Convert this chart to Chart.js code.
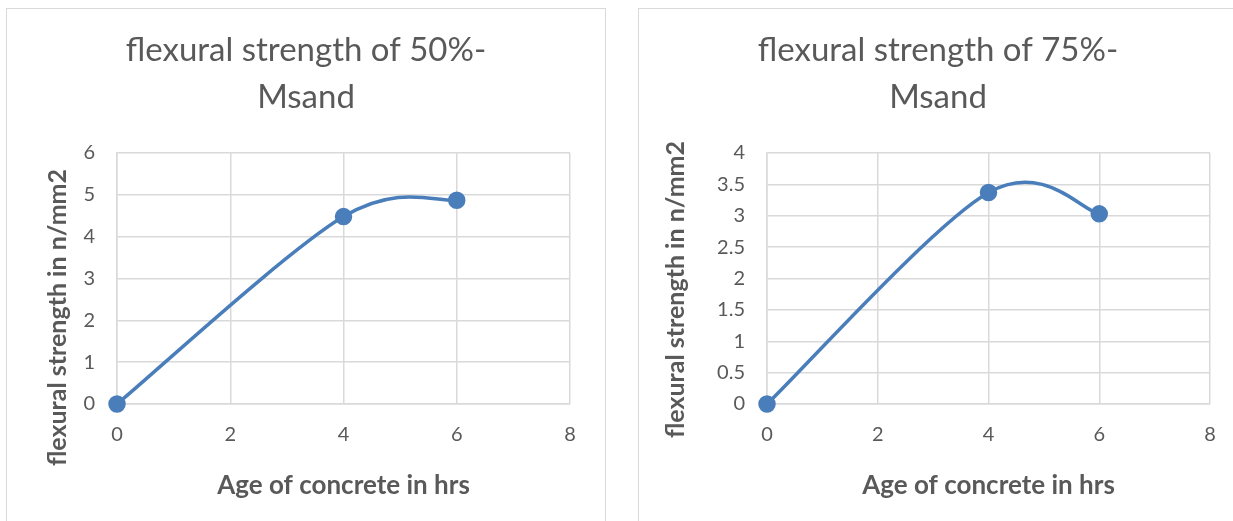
<html>

<head>
    <title>Flexural strength</title>
    <script src="https://cdn.jsdelivr.net/npm/chart.js"></script>
    <style>
        body { margin: 0; background: #fff; width: 1233px; height: 521px; overflow: hidden; }
        .panel { position: absolute; top: 8px; width: 600px; height: 530px; border: 1px solid #d9d9d9; box-sizing: border-box; background: #fff; }
        .panel canvas { position: absolute; left: 0; top: 0; }
        #left-panel { left: 6px; }
        #right-panel { left: 638px; }
    </style>
</head>

<body>
    <div class="panel" id="left-panel">
        <canvas id="msand50" width="598" height="512"></canvas>
    </div>
    <div class="panel" id="right-panel">
        <canvas id="msand75" width="598" height="512"></canvas>
    </div>
</body>
<script>
    // data
    const ageHrs = [0, 4, 6]
    const strength50 = [0, 4.48, 4.87]
    const strength75 = [0, 3.37, 3.03]
    const xTicks = [0, 2, 4, 6, 8]

    const grey = '#595959'
    const gridGrey = '#d9d9d9'
    const lineBlue = '#4a7ebb'
    const font = "Lato, 'Open Sans', sans-serif"

    // excel style smoothing: control points at a fixed share of the neighbour span
    const excelSmooth = {
        id: 'excelSmooth',
        beforeDatasetDraw(chart, args) {
            const meta = args.meta
            meta.dataset.updateControlPoints(chart.chartArea, 'x')
            const pts = meta.data
            const k = 0.165
            pts.forEach((p, i) => {
                const prev = pts[i - 1] || p
                const next = pts[i + 1] || p
                p.cp1x = p.x - (next.x - prev.x) * k
                p.cp1y = p.y - (next.y - prev.y) * k
                p.cp2x = p.x + (next.x - prev.x) * k
                p.cp2y = p.y + (next.y - prev.y) * k
            })
        }
    }

    // y axis title, centred a bit lower than the plot like in excel
    const sideTitle = {
        id: 'sideTitle',
        afterDraw(chart, args, opts) {
            const { ctx, chartArea } = chart
            ctx.save()
            ctx.translate(opts.x, (chartArea.top + chartArea.bottom) / 2 + opts.shift)
            ctx.rotate(-Math.PI / 2)
            ctx.font = 'bold 25px ' + font
            ctx.fillStyle = grey
            ctx.textAlign = 'center'
            ctx.textBaseline = 'middle'
            ctx.fillText(opts.text, 0, 0)
            ctx.restore()
        }
    }

    function flexChart(id, title, values, yMax, yStep, pad, yWidth, titleX, titleShift) {
        const points = ageHrs.map((x, i) => ({ x: x, y: values[i] }))
        return new Chart(document.getElementById(id), {
            type: 'scatter',
            data: {
                datasets: [{
                    data: points,
                    showLine: true,
                    borderColor: lineBlue,
                    backgroundColor: lineBlue,
                    borderWidth: 3.5,
                    pointRadius: 7,
                    tension: 0.4,
                    clip: false
                }]
            },
            plugins: [excelSmooth, sideTitle],
            options: {
                responsive: false,
                animation: false,
                layout: { padding: { top: 0, left: pad, right: pad, bottom: 20 } },
                plugins: {
                    legend: { display: false },
                    tooltip: { enabled: false },
                    title: {
                        display: true,
                        text: title,
                        color: grey,
                        font: { family: font, size: 33, weight: 'normal', lineHeight: '47px' },
                        padding: { top: 18, bottom: 32 }
                    },
                    sideTitle: { text: 'flexural strength in n/mm2', x: titleX, shift: titleShift }
                },
                scales: {
                    x: {
                        type: 'linear',
                        min: xTicks[0], max: xTicks[xTicks.length - 1],
                        afterBuildTicks: (scale) => { scale.ticks = xTicks.map(v => ({ value: v })) },
                        ticks: { color: grey, font: { family: font, size: 20 }, padding: 19 },
                        grid: { color: gridGrey, lineWidth: 1.5, drawTicks: false },
                        border: { color: gridGrey, width: 1.5 },
                        title: {
                            display: true,
                            text: 'Age of concrete in hrs',
                            color: grey,
                            font: { family: font, size: 26, weight: 'bold' },
                            padding: { top: 0, bottom: 0 }
                        },
                        afterFit: (scale) => { scale.height = 97 }
                    },
                    y: {
                        min: 0, max: yMax,
                        ticks: {
                            stepSize: yStep, color: grey, font: { family: font, size: 20 }, padding: 22,
                            callback: (v) => String(v)
                        },
                        grid: { color: gridGrey, lineWidth: 1.5, drawTicks: false },
                        border: { color: gridGrey, width: 1.5 },
                        afterFit: (scale) => { scale.width = yWidth }
                    }
                }
            }
        })
    }

    flexChart('msand50', ['flexural strength of 50%-', 'Msand'], strength50, 6, 1, 35, 75, 51, 39)
    flexChart('msand75', ['flexural strength of 75%-', 'Msand'], strength75, 4, 0.5, 27, 101, 37, 11)
</script>

</html>
